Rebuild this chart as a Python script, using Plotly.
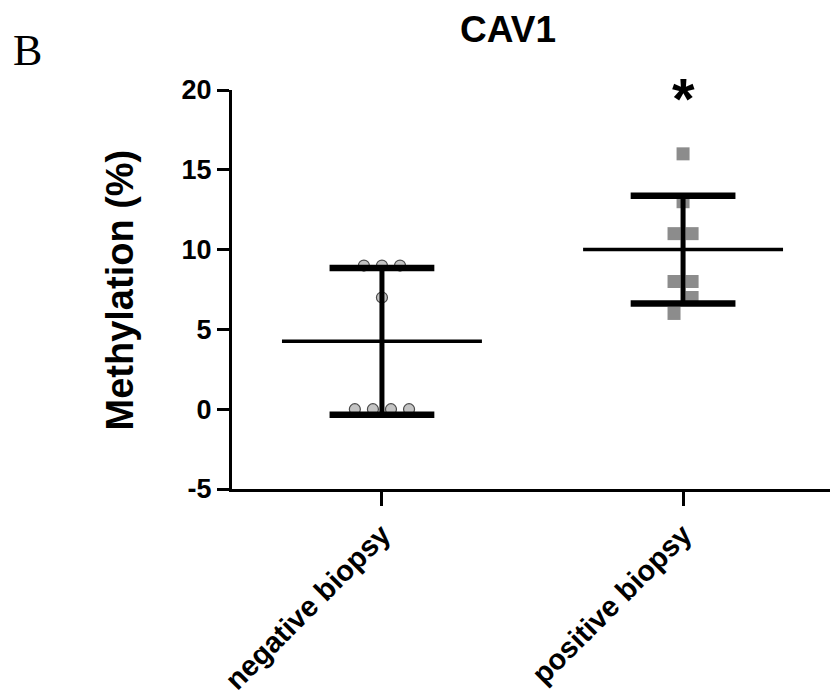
import numpy as np
import plotly.graph_objects as go

# Data: CAV1 methylation (%) per patient group
categories = ["negative biopsy", "positive biopsy"]
negative_values = [9, 9, 9, 7, 0, 0, 0, 0]
positive_values = [16, 13, 11, 11, 8, 8, 7, 6]
y_tick_values = [-5, 0, 5, 10, 15, 20]

# Horizontal spread of the scatter symbols around each category centre
negative_jitter = [-0.06, 0.0, 0.06, 0.0, -0.09, -0.03, 0.03, 0.09]
positive_jitter = [0.0, 0.0, -0.03, 0.03, -0.03, 0.03, 0.03, -0.03]

groups = [negative_values, positive_values]
means = [float(np.mean(g)) for g in groups]
sds = [float(np.std(g, ddof=1)) for g in groups]

MEAN_HALF = 0.332   # half length of the mean line (x units)
CAP_HALF = 0.174    # half length of the SD caps (x units)

fig = go.Figure()

# Individual points
fig.add_trace(go.Scatter(
    x=[0 + j for j in negative_jitter], y=negative_values,
    mode="markers",
    marker=dict(symbol="circle", size=11, color="#c4c4c4",
                line=dict(color="#4a4a4a", width=1.2)),
    showlegend=False, hoverinfo="y"))
fig.add_trace(go.Scatter(
    x=[1 + j for j in positive_jitter], y=positive_values,
    mode="markers",
    marker=dict(symbol="square", size=13, color="#8c8c8c",
                line=dict(width=0)),
    showlegend=False, hoverinfo="y"))

# Mean line and mean +/- SD bars for each group
for i, (m, s) in enumerate(zip(means, sds)):
    lo, hi = m - s, m + s
    fig.add_trace(go.Scatter(
        x=[i - MEAN_HALF, i + MEAN_HALF], y=[m, m], mode="lines",
        line=dict(color="black", width=3.5), showlegend=False, hoverinfo="skip"))
    fig.add_trace(go.Scatter(
        x=[i, i], y=[lo, hi], mode="lines",
        line=dict(color="black", width=5), showlegend=False, hoverinfo="skip"))
    fig.add_trace(go.Scatter(
        x=[i - CAP_HALF, i + CAP_HALF, None, i - CAP_HALF, i + CAP_HALF],
        y=[hi, hi, None, lo, lo], mode="lines",
        line=dict(color="black", width=6.5), showlegend=False, hoverinfo="skip"))

axis_font = dict(family="Liberation Sans, Arial, sans-serif", color="black")

fig.update_layout(
    width=830, height=696,
    margin=dict(l=232, r=0, t=90, b=207),
    paper_bgcolor="white", plot_bgcolor="white",
    title=dict(text="<b>CAV1</b>", x=508 / 830, xanchor="center",
               y=1 - 29 / 696, yanchor="middle", yref="container",
               font=dict(size=37, **axis_font)),
    xaxis=dict(range=[-0.498, 1.488], tickmode="array",
               tickvals=list(range(len(categories))),
               ticktext=[f"<b>{c}</b>" for c in categories],
               tickangle=-45, tickfont=dict(size=29, **axis_font),
               showline=True, linecolor="black", linewidth=3,
               ticks="outside", ticklen=14, tickwidth=3, tickcolor="black",
               showgrid=False, zeroline=False),
    yaxis=dict(range=[-5, 20], tickmode="array", tickvals=y_tick_values,
               ticktext=[f"<b>{v}</b>" for v in y_tick_values],
               tickfont=dict(size=27, **axis_font),
               showline=True, linecolor="black", linewidth=3,
               ticks="outside", ticklen=12, tickwidth=3, tickcolor="black",
               showgrid=False, zeroline=False),
)

# Axis title
fig.add_annotation(text="<b>Methylation (%)</b>", xref="paper", yref="paper",
                   x=(119 - 232) / 598, y=0.5, textangle=-90, showarrow=False,
                   xanchor="center", yanchor="middle",
                   font=dict(size=38, **axis_font))

# Significance marker above the positive group
fig.add_annotation(text="<b>*</b>", xref="x", yref="y", x=1, y=19.45,
                   showarrow=False, xanchor="center", yanchor="middle",
                   font=dict(size=58, **axis_font))

# Panel letter
fig.add_annotation(text="B", xref="paper", yref="paper",
                   x=(27 - 232) / 598, y=(489 - 51) / 399, showarrow=False,
                   xanchor="center", yanchor="middle",
                   font=dict(family="Liberation Serif, Times New Roman, serif",
                             size=44, color="black"))

fig.write_html("out.html")
